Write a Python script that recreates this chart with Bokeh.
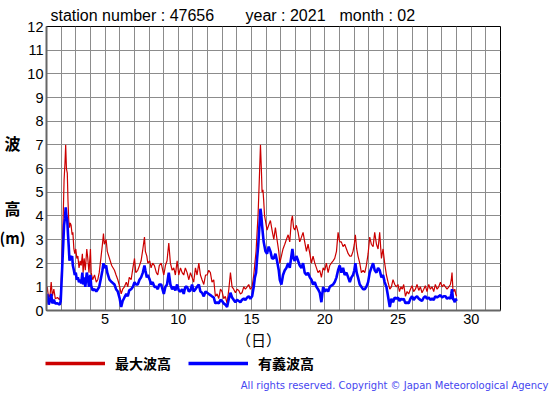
from bokeh.plotting import figure
from bokeh.models import (Range1d, FixedTicker, Label, Legend, LegendItem,
                          ColumnDataSource, GridBox)
from bokeh.embed import file_html
from bokeh.resources import INLINE

# ---- data ----
days = [1.00, 1.05, 1.15, 1.25, 1.32, 1.40, 1.50, 1.60, 1.75, 1.90, 1.97, 2.05, 2.12, 2.20, 2.26, 2.31,
        2.36, 2.42, 2.47, 2.52, 2.57, 2.62, 2.68, 2.75, 2.80, 2.87, 2.93, 3.00, 3.07, 3.14, 3.22, 3.30,
        3.37, 3.45, 3.50, 3.57, 3.65, 3.75, 3.82, 3.90, 4.00, 4.05, 4.15, 4.28, 4.40, 4.50, 4.60, 4.73,
        4.82, 4.89, 4.95, 5.07, 5.15, 5.30, 5.45, 5.64, 5.75, 5.87, 6.00, 6.10, 6.20, 6.32, 6.45, 6.55,
        6.65, 6.78, 6.90, 7.01, 7.10, 7.23, 7.35, 7.46, 7.58, 7.69, 7.75, 7.85, 7.92, 8.05, 8.14, 8.25,
        8.37, 8.50, 8.60, 8.70, 8.83, 9.01, 9.12, 9.23, 9.35, 9.46, 9.58, 9.69, 9.80, 9.92, 10.03, 10.15,
        10.26, 10.37, 10.48, 10.60, 10.72, 10.83, 10.94, 11.05, 11.17, 11.28, 11.40, 11.51, 11.62, 11.74,
        11.86, 11.97, 12.08, 12.19, 12.30, 12.42, 12.53, 12.65, 12.76, 12.88, 12.99, 13.10, 13.21, 13.33,
        13.45, 13.56, 13.67, 13.78, 13.90, 14.01, 14.13, 14.24, 14.35, 14.47, 14.58, 14.70, 14.81, 14.92,
        15.04, 15.15, 15.23, 15.31, 15.38, 15.45, 15.53, 15.61, 15.67, 15.72, 15.78, 15.83, 15.89, 15.95,
        16.06, 16.17, 16.29, 16.40, 16.52, 16.63, 16.74, 16.86, 16.93, 17.04, 17.15, 17.27, 17.38, 17.50,
        17.61, 17.72, 17.79, 17.87, 17.95, 18.06, 18.18, 18.29, 18.41, 18.52, 18.63, 18.75, 18.86, 18.98,
        19.09, 19.20, 19.32, 19.43, 19.54, 19.66, 19.77, 19.89, 20.00, 20.11, 20.23, 20.34, 20.45, 20.57,
        20.68, 20.80, 20.91, 21.02, 21.13, 21.25, 21.36, 21.48, 21.60, 21.71, 21.82, 21.93, 22.02, 22.09,
        22.18, 22.27, 22.39, 22.50, 22.62, 22.73, 22.84, 22.96, 23.07, 23.18, 23.30, 23.41, 23.53, 23.64,
        23.75, 23.87, 23.98, 24.09, 24.21, 24.32, 24.44, 24.55, 24.66, 24.78, 24.89, 25.00, 25.10, 25.20,
        25.30, 25.39, 25.51, 25.62, 25.73, 25.85, 25.96, 26.07, 26.19, 26.30, 26.42, 26.53, 26.64, 26.76,
        26.87, 26.98, 27.10, 27.21, 27.33, 27.44, 27.55, 27.67, 27.78, 27.90, 28.01, 28.12, 28.24, 28.35,
        28.47, 28.58, 28.64, 28.69, 28.75, 28.81, 28.88, 28.94, 29.00]

max_wave = [0.8, 1.0, 0.5, 0.7, 1.2, 0.6, 0.9, 0.5, 0.55, 0.45, 0.7, 2.0, 3.5, 5.5, 6.2, 7.0,
            6.0, 5.8, 4.6, 3.8, 3.5, 3.7, 3.6, 3.2, 3.3, 2.6, 2.4, 2.6, 2.2, 2.3, 1.8, 2.1,
            1.9, 2.4, 1.6, 2.2, 1.7, 2.6, 2.2, 1.6, 2.6, 1.6, 1.3, 1.5, 1.2, 1.3, 1.6, 2.3,
            2.8, 3.25, 2.8, 3.0, 2.5, 2.2, 1.9, 1.7, 1.5, 1.3, 1.0, 0.7, 0.9, 1.0, 1.2, 1.0,
            1.4, 1.3, 1.8, 2.2, 1.6, 1.7, 1.9, 2.1, 2.6, 3.1, 2.5, 2.3, 2.0, 2.1, 1.8, 2.0,
            1.9, 1.6, 1.5, 1.9, 2.0, 1.5, 1.9, 2.1, 2.85, 2.0, 1.7, 1.8, 1.5, 2.1, 1.5, 1.8,
            1.6, 1.5, 1.8, 1.6, 1.3, 1.6, 1.4, 1.2, 1.8, 1.5, 2.0, 1.5, 1.3, 1.1,
            1.5, 1.5, 1.7, 1.6, 1.2, 1.3, 0.6, 0.7, 0.5, 0.9, 0.8, 0.5, 0.6, 0.3,
            0.9, 1.6, 1.0, 0.9, 0.75, 0.9, 0.85, 0.7, 0.75, 1.0, 0.9, 1.0, 1.1, 0.9,
            1.0, 1.5, 2.0, 2.5, 3.3, 4.1, 5.5, 7.0, 6.0, 5.0, 5.1, 4.65, 4.0, 3.8,
            3.4, 3.6, 3.8, 3.4, 3.0, 3.5, 3.0, 2.5, 2.0, 2.3, 2.6, 2.8, 3.0, 3.2,
            2.9, 3.8, 4.0, 3.5, 3.4, 3.6, 3.3, 2.9, 3.1, 3.3, 2.9, 2.5, 2.8, 2.4,
            2.0, 2.3, 2.0, 1.8, 1.6, 1.7, 1.4, 1.8, 1.7, 2.0, 1.6, 1.9, 2.0, 2.1,
            2.2, 2.5, 3.3, 2.9, 2.9, 2.7, 2.8, 2.6, 2.4, 2.3, 2.3, 2.5, 2.8, 3.2,
            2.6, 2.3, 2.0, 1.6, 1.7, 1.6, 1.9, 2.4, 3.1, 2.8, 2.7, 3.3, 2.8, 2.6,
            3.3, 2.2, 2.6, 2.0, 1.5, 1.2, 0.9, 1.0, 1.3, 1.1, 1.0, 1.1, 0.8, 1.0,
            0.9, 1.1, 0.6, 0.8, 0.7, 0.9, 1.05, 0.8, 0.9, 1.1, 0.85, 1.0, 0.75, 0.9,
            1.05, 0.8, 1.1, 0.9, 1.0, 0.8, 1.1, 0.9, 1.0, 1.2, 1.0, 1.1, 1.0, 0.9,
            1.0, 1.1, 1.3, 1.6, 0.9, 0.8, 0.9, 0.7, 0.6]

sig_wave = [0.5, 0.7, 0.25, 0.45, 0.7, 0.3, 0.45, 0.3, 0.3, 0.25, 0.4, 1.5, 2.5, 3.6, 3.9, 4.36,
            4.0, 3.8, 3.2, 2.7, 2.1, 2.3, 2.2, 2.3, 1.9, 1.7, 1.5, 1.6, 1.3, 1.4, 1.2, 1.3,
            1.15, 1.6, 1.1, 1.4, 1.0, 1.6, 1.4, 1.0, 1.5, 1.05, 0.85, 0.9, 0.8, 0.9, 1.0, 1.4,
            1.7, 2.0, 1.8, 1.9, 1.6, 1.3, 1.2, 1.1, 0.9, 0.8, 0.5, 0.15, 0.4, 0.55, 0.7, 0.6,
            0.85, 0.9, 1.0, 1.2, 1.1, 1.1, 1.3, 1.4, 1.6, 1.9, 1.7, 1.4, 1.5, 1.3, 1.1, 1.2,
            1.0, 1.0, 0.9, 1.1, 1.1, 0.7, 1.0, 1.1, 1.6, 1.1, 0.9, 1.0, 0.85, 1.1, 0.85, 0.8,
            0.9, 0.7, 1.0, 1.0, 0.8, 0.85, 1.1, 0.8, 0.9, 1.0, 1.1, 0.8, 0.75, 0.6,
            0.8, 0.75, 0.7, 0.65, 0.6, 0.55, 0.3, 0.35, 0.3, 0.45, 0.4, 0.3, 0.25, 0.15,
            0.5, 0.75, 0.55, 0.45, 0.35, 0.45, 0.4, 0.35, 0.45, 0.5, 0.45, 0.55, 0.6, 0.5,
            0.6, 1.0, 1.4, 1.6, 2.2, 2.7, 3.5, 4.3, 4.0, 3.6, 3.2, 2.9, 2.7, 2.5,
            2.4, 2.7, 2.5, 2.2, 2.2, 2.4, 2.1, 1.7, 1.3, 1.1, 1.5, 1.7, 1.8, 2.0,
            1.8, 2.3, 2.6, 2.2, 2.1, 2.3, 2.1, 1.9, 1.8, 2.0, 1.6, 1.5, 1.6, 1.4,
            1.3, 1.1, 1.2, 1.0, 0.9, 0.75, 0.35, 1.0, 0.8, 0.9, 0.8, 1.0, 1.05, 1.1,
            1.2, 1.4, 1.7, 1.9, 1.6, 1.8, 1.5, 1.6, 1.4, 1.2, 1.4, 1.5, 1.7, 2.0,
            1.6, 1.4, 1.1, 1.0, 0.9, 0.9, 1.0, 1.2, 1.6, 1.8, 2.0, 1.7, 1.6, 1.8,
            1.7, 1.4, 1.5, 1.2, 1.0, 0.6, 0.15, 0.5, 0.35, 0.55, 0.5, 0.55, 0.4, 0.5,
            0.45, 0.5, 0.3, 0.35, 0.3, 0.5, 0.6, 0.45, 0.55, 0.6, 0.5, 0.45, 0.4, 0.55,
            0.6, 0.5, 0.55, 0.45, 0.5, 0.45, 0.6, 0.55, 0.6, 0.65, 0.55, 0.6, 0.6, 0.5,
            0.55, 0.5, 0.7, 0.9, 0.5, 0.45, 0.35, 0.5, 0.4]

y_ticks = list(range(0, 13))
x_ticks = [5, 10, 15, 20, 25, 30]
header_station = "station number : 47656"
header_year = "year : 2021"
header_month = "month : 02"
y_title = ["波", "高", "(m)"]
x_title = "（日）"
legend_max = "最大波高"
legend_sig = "有義波高"
copyright_text = "All rights reserved. Copyright \u00a9 Japan Meteorological Agency"

# ---- layout geometry (page pixels) ----
W, H = 555, 395
FL, FR, FT, FB = 46, 500, 26, 310   # plot frame edges on the page
X0, X1, Y0, Y1 = 1, 32, 0, 12

# main plot (full canvas)
p = figure(width=W, height=H,
           min_border_left=FL, min_border_right=W - FR,
           min_border_top=FT, min_border_bottom=H - FB,
           x_range=Range1d(X0, X1), y_range=Range1d(Y0, Y1),
           output_backend="svg", toolbar_location=None,
           background_fill_color="white", border_fill_color="white")
p.frame_align = False
p.outline_line_color = "black"
p.outline_line_width = 1

p.xaxis.ticker = FixedTicker(ticks=x_ticks)
p.yaxis.ticker = FixedTicker(ticks=y_ticks)
p.xgrid.ticker = FixedTicker(ticks=list(range(X0, X1 + 1)))
p.ygrid.ticker = FixedTicker(ticks=list(range(Y0, Y1 + 1)))
for g in (p.xgrid, p.ygrid):
    g.grid_line_color = "#8c8c8c"
    g.grid_line_width = 1

for ax in (p.xaxis, p.yaxis):
    ax.axis_line_color = "#666666"
    ax.axis_line_width = 2
    ax.major_tick_line_color = None
    ax.minor_tick_line_color = None
    ax.major_tick_out = 0
    ax.minor_tick_out = 0
    ax.major_label_text_font = "Liberation Sans"
    ax.major_label_text_font_size = "14.5px"
    ax.major_label_text_color = "black"
p.yaxis.major_label_standoff = 3
p.xaxis.major_label_standoff = 3

src = ColumnDataSource(dict(day=days, mx=max_wave, sg=sig_wave))
p.line("day", "mx", source=src, line_color="#cc0000", line_width=1.2)
p.line("day", "sg", source=src, line_color="#0000ff", line_width=2.6)

# transparent overlay for the texts and legend; data units = page pixels (y down)
ov = figure(width=W, height=H, x_range=Range1d(0, W), y_range=Range1d(H, 0),
            x_axis_type=None, y_axis_type=None, min_border=0,
            output_backend="svg", toolbar_location=None,
            background_fill_alpha=0, border_fill_alpha=0)
ov.frame_align = False
ov.outline_line_color = None
ov.grid.visible = False


def add_label(text, x, y, size, font="Liberation Sans", color="black",
              align="left", style="normal"):
    ov.add_layout(Label(x=x, y=y, text=text, text_font=font,
                        text_font_size=size, text_color=color, text_align=align,
                        text_baseline="middle", text_font_style=style))


add_label(header_station, 50, 15, "16px")
add_label(header_year, 245, 15, "16px")
add_label(header_month, 339, 15, "16px")
for txt, py, sz in zip(y_title, [142, 207, 237], ["16px", "16px", "15px"]):
    add_label(txt, 12, py, sz, font="Noto Sans CJK JP", align="center", style="bold")
add_label(x_title, 258, 338.5, "15px", font="Noto Sans CJK JP", align="center")
add_label(copyright_text, 548, 385, "10px", font="DejaVu Sans", color="#4646f0", align="right")

nan = float("nan")
leg_src = ColumnDataSource(dict(x=[nan], y=[nan]))
r_leg_max = ov.line("x", "y", source=leg_src, line_color="#cc0000", line_width=3.5)
r_leg_sig = ov.line("x", "y", source=leg_src, line_color="#0000ff", line_width=3.5)
legend = Legend(items=[LegendItem(label=legend_max, renderers=[r_leg_max]),
                       LegendItem(label=legend_sig, renderers=[r_leg_sig])],
                orientation="horizontal", location=(45, H - 363 - 10),
                glyph_width=60, glyph_height=20, label_height=20,
                label_standoff=10, spacing=17, padding=0, margin=0,
                border_line_color=None, background_fill_alpha=0,
                label_text_font="Noto Sans CJK JP", label_text_font_style="bold",
                label_text_font_size="14px", label_text_color="black")
ov.add_layout(legend, "center")

layout = GridBox(children=[(p, 0, 0), (ov, 0, 0)])
open("out.html", "w").write(file_html(layout, INLINE))
